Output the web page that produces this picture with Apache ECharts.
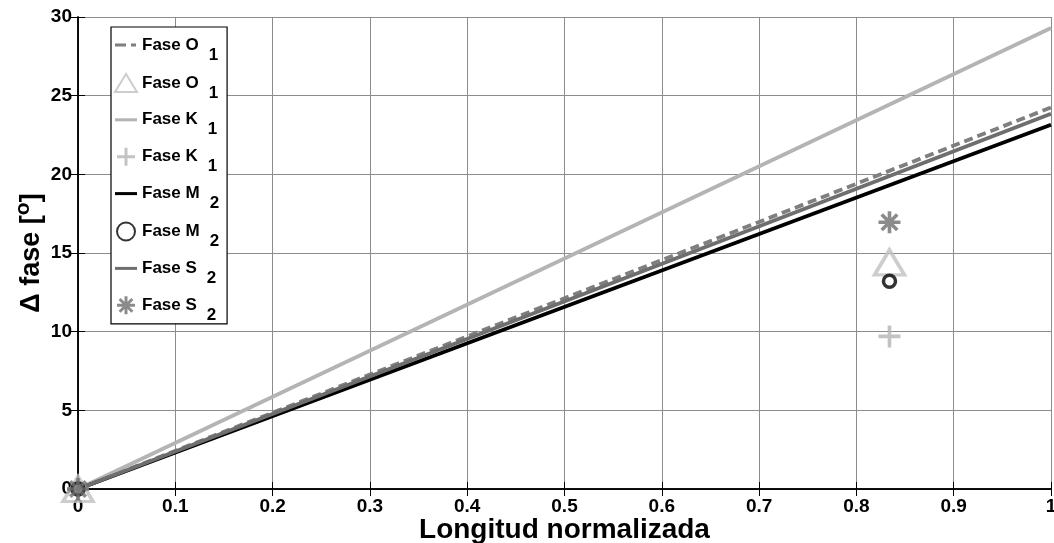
<!DOCTYPE html>
<html><head><meta charset="utf-8">
<script src="https://cdn.jsdelivr.net/npm/echarts@6/dist/echarts.min.js"></script>
<style>html,body{margin:0;padding:0;background:#fff}#c{width:1054px;height:543px}</style>
</head><body><div id="c"></div>
<script>
// ---- data ----
const xTicks = [0, 0.1, 0.2, 0.3, 0.4, 0.5, 0.6, 0.7, 0.8, 0.9, 1];
const yTicks = [0, 5, 10, 15, 20, 25, 30];
const lineX = [0, 1];
const o1Line = [0, 24.25];
const k1Line = [0, 29.3];
const m2Line = [0, 23.15];
const s2Line = [0, 23.85];
const pointX = [0, 0.834];
const o1Pts = [0, 14.4];
const k1Pts = [0, 9.7];
const m2Pts = [0, 13.2];
const s2Pts = [0, 16.95];
const legendLabels = {
  o1l: ['Fase O', '1'], o1p: ['Fase O', '1'],
  k1l: ['Fase K', '1'], k1p: ['Fase K', '1'],
  m2l: ['Fase M', '2'], m2p: ['Fase M', '2'],
  s2l: ['Fase S', '2'], s2p: ['Fase S', '2']
};

function bars(angles, L, w) {
  let p = '';
  angles.forEach(a => {
    const r = a * Math.PI / 180, c = Math.cos(r), s = Math.sin(r);
    const pts = [[L, w], [L, -w], [-L, -w], [-L, w]].map(([u, v]) => [(u * c - v * s + 12).toFixed(2), (u * s + v * c + 12).toFixed(2)]);
    p += 'M' + pts[0].join(',') + 'L' + pts[1].join(',') + 'L' + pts[2].join(',') + 'L' + pts[3].join(',') + 'Z';
  });
  return 'path://' + p;
}
const starPath = bars([0, 45, 90, 135], 11, 1.8);
const plusPath = bars([0, 90], 11, 1.8);
const lineIcon = 'path://M0,0M22,18M0,7.5L22,7.5L22,10.5L0,10.5Z';
const dashIcon = 'path://M0,0M22,18M0,7.5L11,7.5L11,10.5L0,10.5ZM16,7.5L21,7.5L21,10.5L16,10.5Z';

const FF = 'Liberation Sans, Arial, sans-serif';
const pairs = (xs, ys) => xs.map((x, i) => [x, ys[i]]);

function lineSeries(name, data, color, dashed) {
  return {
    name, type: 'line', data: pairs(lineX, data), symbol: 'none', silent: true,
    lineStyle: { color, width: 3.8, type: dashed ? [9, 5] : 'solid' },
    itemStyle: { color }, z: 2
  };
}
function ptSeries(name, data, symbol, size, style, z) {
  return { name, type: 'scatter', data: pairs(pointX, data), symbol, symbolSize: size, itemStyle: style, z: z || 3, silent: true };
}

const chart = echarts.init(document.getElementById('c'));
const axisCommon = {
  axisLine: { show: true, lineStyle: { color: '#000', width: 1.5 } },
  axisTick: { show: true, inside: true, length: 7, lineStyle: { color: '#000', width: 1 } }
};
chart.setOption({
  animation: false,
  backgroundColor: '#fff',
  grid: { left: 78, right: 3, top: 17, bottom: 54, containLabel: false, outerBoundsMode: 'none' },
  xAxis: [{
    type: 'value', min: 0, max: 1, interval: 0.1, ...axisCommon,
    axisLabel: { fontFamily: FF, fontWeight: 'bold', fontSize: 19, color: '#000', margin: 8,
      formatter: v => { const t = xTicks.find(k => Math.abs(k - v) < 1e-9); return t === 0 ? '0' : t === 1 ? '1' : t.toFixed(1); } },
    splitLine: { show: true, lineStyle: { color: '#8c8c8c', width: 1 } },
    name: 'Longitud normalizada', nameLocation: 'middle', nameGap: 27, nameMoveOverlap: false,
    nameTextStyle: { fontFamily: FF, fontWeight: 'bold', fontSize: 28, color: '#000' }
  }, {
    type: 'value', position: 'top', min: 0, max: 1, interval: 0.1, ...axisCommon,
    axisLabel: { show: false }, splitLine: { show: false }
  }],
  yAxis: [{
    type: 'value', min: 0, max: 30, interval: 5, ...axisCommon,
    axisLabel: { fontFamily: FF, fontWeight: 'bold', fontSize: 19, color: '#000', margin: 6,
      formatter: v => String(yTicks.find(k => Math.abs(k - v) < 1e-9)) },
    splitLine: { show: true, lineStyle: { color: '#8c8c8c', width: 1 } },
    name: '{a|Δ fase [}{s|o}{a|]}', nameLocation: 'middle', nameGap: 28, nameMoveOverlap: false,
    nameTextStyle: { color: '#000', rich: {
      a: { fontFamily: FF, fontWeight: 'bold', fontSize: 27, color: '#000' },
      s: { fontFamily: FF, fontWeight: 'bold', fontSize: 21, color: '#000', padding: [0, 0, 16, 0] } } }
  }, {
    type: 'value', position: 'right', min: 0, max: 30, interval: 5, ...axisCommon,
    axisLabel: { show: false }, splitLine: { show: false }
  }],
  legend: {
    orient: 'vertical', left: 111, top: 27,
    padding: [9, 8, 0, 3], itemGap: 9.4, itemWidth: 22, itemHeight: 18, itemTextGap: 3,
    borderColor: '#000', borderWidth: 1.2, backgroundColor: '#fff',
    selectedMode: false,
    data: [
      { name: 'o1l', icon: dashIcon, itemStyle: { color: '#7f7f7f' } },
      { name: 'o1p' },
      { name: 'k1l', icon: lineIcon, itemStyle: { color: '#b4b4b4' } },
      { name: 'k1p' },
      { name: 'm2l', icon: lineIcon, itemStyle: { color: '#000' } },
      { name: 'm2p' },
      { name: 's2l', icon: lineIcon, itemStyle: { color: '#6e6e6e' } },
      { name: 's2p' }
    ],
    formatter: n => '{b|' + legendLabels[n][0] + '}{s|' + legendLabels[n][1] + '}',
    textStyle: { color: '#000', rich: {
      b: { fontFamily: FF, fontWeight: 'bold', fontSize: 17, color: '#000' },
      s: { fontFamily: FF, fontWeight: 'bold', fontSize: 17, color: '#000', padding: [20, 0, 0, 10] } } }
  },
  series: [
    lineSeries('o1l', o1Line, '#7f7f7f', true),
    lineSeries('k1l', k1Line, '#b4b4b4', false),
    lineSeries('m2l', m2Line, '#000000', false),
    lineSeries('s2l', s2Line, '#6e6e6e', false),
    ptSeries('o1p', o1Pts, 'triangle', [30, 25], { color: 'rgba(255,255,255,0)', borderColor: '#c0c0c0', borderWidth: 3.5 }, 3),
    ptSeries('k1p', k1Pts, plusPath, 22, { color: '#b4b4b4' }, 4),
    ptSeries('m2p', m2Pts, 'circle', 12, { color: 'rgba(255,255,255,0)', borderColor: '#000', borderWidth: 3.5 }, 5),
    ptSeries('s2p', s2Pts, starPath, 22, { color: '#6e6e6e' }, 6)
  ]
});
</script></body></html>
